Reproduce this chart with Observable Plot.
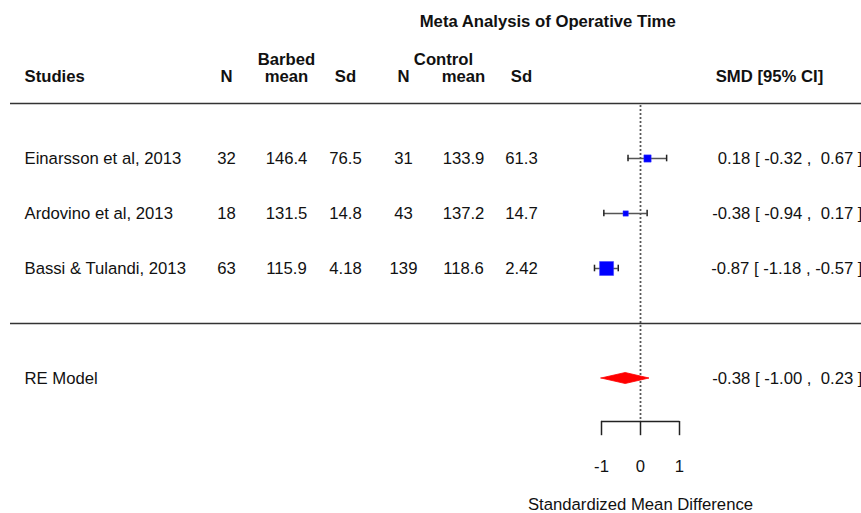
<!DOCTYPE html>
<html>
<head>
<meta charset="utf-8">
<script src="https://cdn.jsdelivr.net/npm/d3@7"></script>
<script src="https://cdn.jsdelivr.net/npm/@observablehq/plot@0.6"></script>
<style>
  html, body { margin: 0; padding: 0; background: #fff; }
  #chart svg text { white-space: pre; }
</style>
</head>
<body>
<div id="chart"></div>
<script>
// Individual studies
const studies = ["Einarsson et al, 2013", "Ardovino et al, 2013", "Bassi & Tulandi, 2013"];
const barbedN = [32, 18, 63];
const barbedMean = ["146.4", "131.5", "115.9"];
const barbedSd = ["76.5", "14.8", "4.18"];
const controlN = [31, 43, 139];
const controlMean = ["133.9", "137.2", "118.6"];
const controlSd = ["61.3", "14.7", "2.42"];
const smd = [0.18, -0.38, -0.87];
const ciLow = [-0.32, -0.94, -1.18];
const ciHigh = [0.67, 0.17, -0.57];
// relative precision of each study (drives the box size)
const precision = [0.52, 0.38, 1];

// Random-effects summary
const pooledLabel = "RE Model";
const pooledSmd = -0.38;
const pooledLow = -1.00;
const pooledHigh = 0.23;

const xTicks = [-1, 0, 1];

// Table layout: column centres in pixels, row numbers for the y scale
const W = 861, H = 513;
const colStudy = 24;
const cols = {nB: 226, meanB: 286, sdB: 345, nC: 403, meanC: 463, sdC: 521, control: 443, smdHead: 769, ci: 862};
const rowHeader = 4.48, rowHeaderTop = 4.8, rowTitle = 5.49;
const rowAxis = -1.78, rowTickEnd = -2.04, rowTickLabel = -2.6, rowAxisTitle = -3.29;
const capH = 0.06;

const fmt = v => v.toFixed(2);
const pad = v => fmt(v).padStart(6, " ");

const rows = studies.map((s, i) => ({
  study: s,
  row: studies.length - i,
  nB: String(barbedN[i]), meanB: barbedMean[i], sdB: barbedSd[i],
  nC: String(controlN[i]), meanC: controlMean[i], sdC: controlSd[i],
  est: smd[i], lo: ciLow[i], hi: ciHigh[i], w: precision[i],
  ci: `${fmt(smd[i])} [${pad(ciLow[i])} ,${pad(ciHigh[i])} ]`
}));
const pooledRow = -1;
const diamondH = 0.1;
const diamond = [
  {x: pooledLow, y1: pooledRow, y2: pooledRow},
  {x: pooledSmd, y1: pooledRow - diamondH, y2: pooledRow + diamondH},
  {x: pooledHigh, y1: pooledRow, y2: pooledRow}
];
const pooledText = `${fmt(pooledSmd)} [${pad(pooledLow)} ,${pad(pooledHigh)} ]`;

const font = "'Liberation Sans', Arial, sans-serif";
const fs = 16.7;
const ink = "#111";

const colText = (key, dx) => Plot.text(rows, {frameAnchor: "left", dx, y: "row", text: key, textAnchor: "middle", fontSize: fs, fill: ink});
const headText = (text, dx, row) => Plot.text([{t: text, r: row}], {frameAnchor: "left", dx, y: "r", text: "t", textAnchor: "middle", fontSize: fs, fontWeight: "bold", fill: ink});

const xLeft = (10 - 640) / 39;   // left end of the horizontal rules in SMD units
const xRight = (W - 640) / 39;

const hRules = [{y: 4}, {y: 0}];
const axisLine = [{y: rowAxis, x1: xTicks[0], x2: xTicks[xTicks.length - 1]}];
const tickData = xTicks.map(v => ({x: v}));

const chart = Plot.plot({
  width: W, height: H,
  marginLeft: 0, marginRight: 0, marginTop: 0, marginBottom: 0,
  style: {fontFamily: font, background: "#fff"},
  x: {type: "linear", domain: [-640 / 39, (W - 640) / 39], axis: null},
  y: {type: "linear", domain: [(323 - H) / 55, 323 / 55], axis: null},
  r: {type: "linear", domain: [0, 1], range: [0, 7.9]},
  marks: [
    // title and headers
    Plot.text([{t: "Meta Analysis of Operative Time", x: -2.38, y: rowTitle}], {x: "x", y: "y", text: "t", fontSize: fs, fontWeight: "bold", fill: ink}),
    Plot.text([{t: "Studies", r: rowHeader}], {frameAnchor: "left", dx: colStudy, y: "r", text: "t", textAnchor: "start", fontSize: fs, fontWeight: "bold", fill: ink}),
    headText("N", cols.nB, rowHeader),
    headText("Barbed", cols.meanB, rowHeaderTop),
    headText("mean", cols.meanB, rowHeader),
    headText("Sd", cols.sdB, rowHeader),
    headText("N", cols.nC, rowHeader),
    headText("Control", cols.control, rowHeaderTop),
    headText("mean", cols.meanC, rowHeader),
    headText("Sd", cols.sdC, rowHeader),
    headText("SMD [95% CI]", cols.smdHead, rowHeader),

    // horizontal rules
    Plot.ruleY(hRules, {y: "y", x1: () => xLeft, x2: () => xRight, stroke: "#333", strokeWidth: 1.5}),

    // reference line at zero
    Plot.ruleX([{x: 0}], {x: "x", y1: () => 3.96, y2: () => rowAxis, stroke: "#222", strokeWidth: 1.8, strokeDasharray: "1.5,2.5"}),

    // study table
    Plot.text(rows, {frameAnchor: "left", dx: colStudy, y: "row", text: "study", textAnchor: "start", fontSize: fs, fill: ink}),
    colText("nB", cols.nB),
    colText("meanB", cols.meanB),
    colText("sdB", cols.sdB),
    colText("nC", cols.nC),
    colText("meanC", cols.meanC),
    colText("sdC", cols.sdC),
    Plot.text(rows, {frameAnchor: "left", dx: cols.ci, y: "row", text: "ci", textAnchor: "end", fontSize: fs, fill: ink}),

    // confidence intervals and study boxes
    Plot.ruleY(rows, {y: "row", x1: "lo", x2: "hi", stroke: "#555", strokeWidth: 1.5}),
    Plot.ruleX(rows, {x: "lo", y1: d => d.row - capH, y2: d => d.row + capH, stroke: "#222", strokeWidth: 1.5}),
    Plot.ruleX(rows, {x: "hi", y1: d => d.row - capH, y2: d => d.row + capH, stroke: "#222", strokeWidth: 1.5}),
    Plot.dot(rows, {x: "est", y: "row", r: "w", symbol: "square", fill: "#0000ff", stroke: "#3a3aff", strokeWidth: 0.5}),

    // pooled estimate
    Plot.text([{t: pooledLabel, r: pooledRow}], {frameAnchor: "left", dx: colStudy, y: "r", text: "t", textAnchor: "start", fontSize: fs, fill: ink}),
    Plot.areaY(diamond, {x: "x", y1: "y1", y2: "y2", fill: "#ff0000", stroke: "#ff0000", strokeWidth: 0.8, curve: "linear"}),
    Plot.text([{t: pooledText, r: pooledRow}], {frameAnchor: "left", dx: cols.ci, y: "r", text: "t", textAnchor: "end", fontSize: fs, fill: ink}),

    // x axis
    Plot.ruleY(axisLine, {y: "y", x1: "x1", x2: "x2", stroke: "#222", strokeWidth: 1.5}),
    Plot.ruleX(tickData, {x: "x", y1: () => rowAxis, y2: () => rowTickEnd, stroke: "#222", strokeWidth: 1.5}),
    Plot.text(tickData, {x: "x", y: () => rowTickLabel, text: d => String(d.x), fontSize: fs, fill: ink}),
    Plot.text([{t: "Standardized Mean Difference", x: 0, y: rowAxisTitle}], {x: "x", y: "y", text: "t", fontSize: fs, fill: ink})
  ]
});

document.getElementById("chart").append(chart);
</script>
</body>
</html>
